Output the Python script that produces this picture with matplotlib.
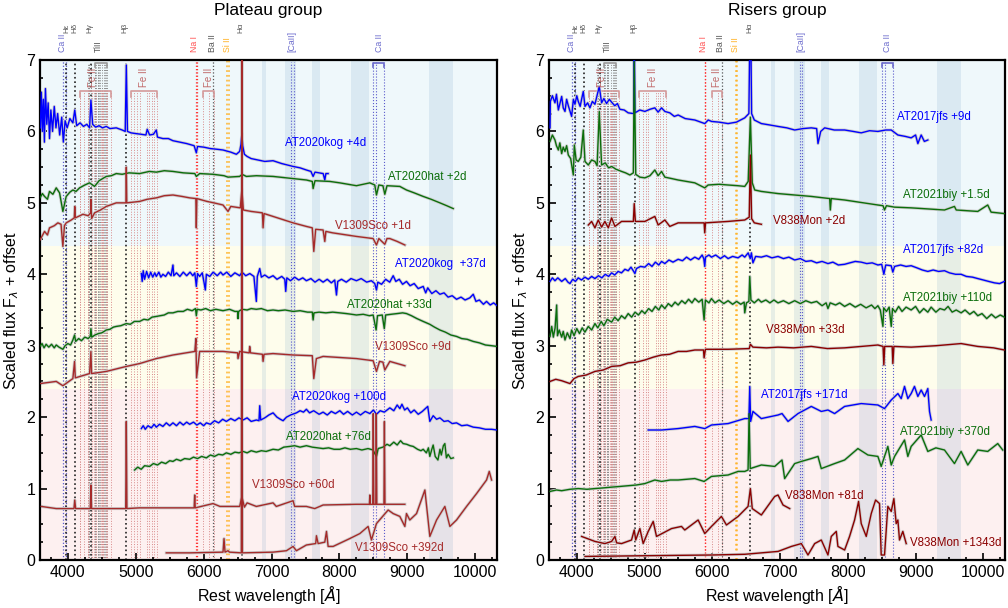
import matplotlib
matplotlib.use("Agg")
import matplotlib.pyplot as plt
import numpy as np
from matplotlib.ticker import MultipleLocator

plt.rcParams.update({
    "font.family": ["Liberation Sans", "DejaVu Sans"],
    "mathtext.fontset": "dejavusans",
    "axes.linewidth": 1.6,
})

BLUE = "#0000ff"
GREEN = "#0b6e0b"
BROWN = "#a52a2a"
DARKRED = "#8b0000"
SHADOW = "#cdcdcd"

# ---------------- line identifications (Angstrom) ----------------
CAII_HK = [3934, 3968]
BALMER = [3970, 4102, 4340, 4861, 6563]
TIII = [4300, 4308, 4314, 4338, 4395, 4400, 4418, 4444, 4450, 4464, 4468,
        4501, 4534, 4549, 4563, 4572]
FEII_A = [4173, 4178, 4233, 4297, 4303, 4352, 4385, 4416, 4489, 4508, 4515,
          4520, 4556, 4584, 4629]
FEII_B = [4924, 4973, 5018, 5057, 5169, 5198, 5235, 5276, 5317]
FEII_C = [5991, 6084, 6149]
NAI = [5890, 5896]
BAII = [6142]
SIII = [6347, 6371]
CAII_FORB = [7291, 7324]
CAII_IR = [8498, 8542, 8662]
TELLURIC = [(6865, 6925), (7205, 7365), (7600, 7720), (8165, 8435), (9315, 9665)]

# ---------------- Plateau group spectra: (wavelength, scaled flux + offset) ----------------
KOG_4D = np.array([
    (3595, 6.05), (3610, 6.55), (3625, 6.0), (3640, 6.45), (3655, 5.85), (3670, 6.6),
    (3690, 6.1), (3710, 6.4), (3730, 5.9), (3750, 6.3), (3775, 6.0), (3800, 6.35),
    (3825, 6.05), (3850, 6.25), (3880, 5.95), (3910, 6.2), (3934, 5.85), (3960, 6.15),
    (3990, 6.05), (4030, 6.18), (4074, 6.12), (4102, 6.3), (4130, 6.08), (4180, 6.12),
    (4230, 6.07), (4280, 6.1), (4320, 6.05), (4340, 6.44), (4365, 6.1), (4410, 6.06),
    (4460, 6.08), (4510, 6.05), (4566, 6.07), (4620, 6.04), (4713, 6.05), (4800, 6.02),
    (4845, 6.0), (4861, 6.93), (4878, 6.0), (4930, 5.98), (5000, 5.97), (5080, 5.96),
    (5150, 5.95), (5169, 6.03), (5204, 5.95), (5260, 5.96), (5303, 6.02), (5320, 5.92),
    (5400, 5.9), (5480, 5.9), (5548, 5.87), (5650, 5.85), (5750, 5.83), (5860, 5.8),
    (5892, 5.7), (5910, 5.79), (6000, 5.78), (6100, 5.76), (6200, 5.75), (6285, 5.74),
    (6400, 5.71), (6482, 5.68), (6530, 5.72), (6550, 5.82), (6563, 5.98), (6575, 5.8),
    (6600, 5.68), (6640, 5.65), (6700, 5.62), (6800, 5.6), (6900, 5.58), (7022, 5.59),
    (7150, 5.55), (7317, 5.51), (7420, 5.49), (7513, 5.46), (7580, 5.44), (7612, 5.37),
    (7640, 5.43), (7700, 5.42), (7760, 5.41), (7784, 5.32), (7800, 5.41), (7833, 5.41)])
HAT_2D = np.array([
    (3590, 5.07), (3625, 5.13), (3657, 5.09), (3700, 5.05), (3730, 5.16), (3780, 5.12),
    (3829, 5.21), (3878, 5.14), (3927, 4.88), (3976, 5.09), (4030, 5.15), (4074, 5.18),
    (4120, 5.16), (4173, 5.21), (4250, 5.25), (4320, 5.28), (4394, 5.23), (4460, 5.31),
    (4566, 5.37), (4640, 5.38), (4713, 5.41), (4800, 5.4), (4900, 5.42), (5057, 5.41),
    (5200, 5.44), (5303, 5.43), (5420, 5.45), (5548, 5.44), (5700, 5.42), (5870, 5.41),
    (5892, 5.37), (5941, 5.41), (6138, 5.4), (6300, 5.38), (6359, 5.36), (6531, 5.37),
    (6565, 5.4), (6629, 5.37), (6776, 5.38), (7022, 5.37), (7317, 5.34), (7513, 5.32),
    (7600, 5.3), (7612, 5.2), (7640, 5.31), (7858, 5.3), (8005, 5.28), (8250, 5.24),
    (8447, 5.28), (8520, 5.25), (8545, 5.11), (8580, 5.25), (8640, 5.24), (8668, 5.12),
    (8700, 5.24), (8889, 5.23), (8987, 5.18), (9100, 5.14), (9233, 5.09), (9350, 5.05),
    (9479, 5.0), (9580, 4.96), (9675, 4.92)])
SCO_1D = np.array([
    (3590, 4.48), (3657, 4.6), (3700, 4.55), (3730, 4.65), (3800, 4.68), (3853, 4.72),
    (3900, 4.7), (3927, 4.39), (3950, 4.68), (3976, 4.72), (4050, 4.76), (4095, 4.79),
    (4102, 4.95), (4110, 4.79), (4222, 4.84), (4300, 4.82), (4335, 4.86), (4340, 5.05),
    (4350, 4.78), (4394, 4.86), (4480, 4.9), (4566, 4.95), (4713, 5.0), (4855, 5.0),
    (4861, 5.5), (4868, 5.0), (5057, 5.02), (5169, 5.05), (5303, 5.07), (5420, 5.1),
    (5548, 5.11), (5680, 5.09), (5794, 5.07), (5885, 5.06), (5892, 4.65), (5900, 5.06),
    (6050, 5.02), (6150, 5.0), (6285, 4.97), (6359, 4.88), (6400, 4.95), (6540, 4.93),
    (6563, 5.2), (6585, 4.9), (6700, 4.88), (6865, 4.86), (6875, 4.65), (6890, 4.85),
    (7022, 4.81), (7317, 4.72), (7513, 4.67), (7600, 4.65), (7622, 4.32), (7650, 4.63),
    (7759, 4.62), (7784, 4.46), (7800, 4.6), (7900, 4.58), (8250, 4.53), (8496, 4.5),
    (8545, 4.41), (8580, 4.5), (8668, 4.42), (8700, 4.5), (8742, 4.5), (8850, 4.46),
    (8963, 4.41)])
KOG_37D = np.array([
    (5082, 4.01), (5095, 3.9), (5110, 4.05), (5130, 3.93), (5160, 4.04), (5190, 3.95),
    (5220, 4.03), (5250, 3.96), (5280, 4.02), (5303, 3.97), (5340, 4.03), (5370, 3.96),
    (5400, 4.0), (5440, 3.97), (5480, 4.03), (5520, 3.98), (5548, 4.13), (5560, 3.98),
    (5600, 4.02), (5650, 3.97), (5700, 4.03), (5750, 3.98), (5800, 4.03), (5840, 3.98),
    (5870, 4.02), (5892, 3.83), (5910, 4.01), (5941, 3.97), (5980, 4.02), (6025, 3.78),
    (6040, 4.0), (6090, 3.97), (6140, 4.03), (6200, 3.98), (6250, 4.03), (6285, 3.99),
    (6340, 4.03), (6400, 3.97), (6460, 4.02), (6531, 3.98), (6565, 4.03), (6620, 3.98),
    (6680, 4.01), (6740, 3.97), (6776, 3.62), (6790, 3.97), (6826, 4.08), (6850, 3.96),
    (6900, 3.99), (6960, 3.95), (7022, 3.98), (7080, 3.93), (7150, 3.97), (7195, 3.93),
    (7209, 3.76), (7225, 3.95), (7280, 3.91), (7340, 3.96), (7400, 3.92), (7460, 3.95),
    (7513, 3.91), (7580, 3.94), (7640, 3.89), (7700, 3.93), (7759, 3.89), (7820, 3.93),
    (7880, 3.88), (7930, 3.92), (7956, 3.71), (7975, 3.9), (8030, 3.93), (8100, 3.89),
    (8170, 3.94), (8250, 3.91), (8320, 3.94), (8400, 3.89), (8470, 3.91), (8520, 3.87),
    (8545, 3.78), (8565, 3.89), (8620, 3.86), (8680, 3.93), (8740, 3.89), (8791, 3.98),
    (8830, 3.9), (8880, 3.93), (8930, 3.86), (8987, 3.9), (9040, 3.84), (9100, 3.87),
    (9160, 3.8), (9233, 3.83), (9270, 3.74), (9300, 3.81), (9360, 3.73), (9420, 3.77),
    (9479, 3.72), (9540, 3.74), (9600, 3.68), (9660, 3.7), (9724, 3.65), (9790, 3.68),
    (9850, 3.64), (9920, 3.67), (9970, 3.72), (10010, 3.62), (10060, 3.64), (10120, 3.58),
    (10166, 3.62), (10220, 3.57), (10270, 3.6), (10320, 3.56)])
HAT_33D = np.array([
    (3590, 2.99), (3620, 3.03), (3650, 2.97), (3680, 3.02), (3720, 2.98), (3760, 3.02),
    (3800, 2.97), (3829, 3.01), (3870, 2.98), (3927, 2.95), (3960, 3.0), (4000, 3.03),
    (4040, 3.01), (4074, 3.08), (4099, 3.15), (4115, 3.06), (4160, 3.1), (4200, 3.07),
    (4250, 3.12), (4300, 3.1), (4330, 3.13), (4340, 3.24), (4352, 3.12), (4400, 3.15),
    (4450, 3.17), (4500, 3.18), (4566, 3.22), (4620, 3.23), (4670, 3.26), (4713, 3.27),
    (4780, 3.28), (4861, 3.31), (4920, 3.3), (4980, 3.34), (5057, 3.34), (5120, 3.37),
    (5180, 3.36), (5240, 3.4), (5303, 3.41), (5360, 3.42), (5420, 3.43), (5480, 3.46),
    (5548, 3.46), (5620, 3.48), (5700, 3.48), (5760, 3.51), (5830, 3.49), (5880, 3.52),
    (5892, 3.42), (5905, 3.51), (5960, 3.5), (6030, 3.52), (6100, 3.49), (6180, 3.51),
    (6285, 3.49), (6380, 3.51), (6460, 3.48), (6500, 3.48), (6506, 3.38), (6515, 3.48),
    (6565, 3.51), (6640, 3.5), (6700, 3.52), (6776, 3.51), (6850, 3.52), (6940, 3.49),
    (7022, 3.5), (7100, 3.49), (7200, 3.5), (7317, 3.48), (7420, 3.49), (7530, 3.47),
    (7600, 3.47), (7612, 3.36), (7625, 3.46), (7700, 3.47), (7800, 3.46), (7900, 3.47),
    (8005, 3.46), (8100, 3.45), (8180, 3.44), (8250, 3.43), (8350, 3.44), (8440, 3.42),
    (8496, 3.43), (8540, 3.22), (8560, 3.42), (8630, 3.43), (8660, 3.24), (8680, 3.43),
    (8760, 3.44), (8850, 3.45), (8930, 3.46), (8987, 3.45), (9060, 3.42), (9140, 3.38),
    (9233, 3.34), (9330, 3.3), (9400, 3.26), (9479, 3.22), (9560, 3.19), (9640, 3.15),
    (9724, 3.13), (9800, 3.1), (9880, 3.09), (9970, 3.06), (10060, 3.04), (10150, 3.01),
    (10240, 3.0), (10320, 2.99)])
SCO_9D = np.array([
    (3590, 2.47), (3829, 2.5), (3927, 2.44), (4074, 2.54), (4099, 2.78), (4110, 2.55),
    (4320, 2.61), (4340, 2.92), (4350, 2.61), (4566, 2.64), (4861, 2.71), (5057, 2.75),
    (5303, 2.82), (5548, 2.87), (5870, 2.92), (5886, 3.1), (5896, 2.55), (5941, 2.92),
    (6285, 2.92), (6500, 2.9), (6506, 2.82), (6531, 2.92), (6670, 2.9), (6678, 2.99),
    (6690, 2.9), (6865, 2.88), (6875, 2.78), (6890, 2.88), (7022, 2.89), (7317, 2.87),
    (7600, 2.86), (7622, 2.54), (7660, 2.82), (7759, 2.85), (8250, 2.82), (8496, 2.79),
    (8545, 2.64), (8590, 2.78), (8640, 2.77), (8668, 2.66), (8742, 2.78), (8963, 2.72)])
KOG_100D = np.array([
    (5082, 1.84), (5110, 1.88), (5140, 1.83), (5180, 1.88), (5230, 1.85), (5270, 1.9),
    (5303, 1.86), (5350, 1.9), (5400, 1.87), (5450, 1.92), (5500, 1.88), (5548, 1.92),
    (5600, 1.88), (5650, 1.93), (5700, 1.89), (5750, 1.93), (5794, 1.9), (5850, 1.93),
    (5900, 1.89), (5950, 1.92), (6000, 1.88), (6040, 1.92), (6100, 1.9), (6160, 1.95),
    (6220, 1.92), (6280, 1.97), (6334, 1.94), (6400, 1.98), (6460, 1.95), (6520, 1.99),
    (6580, 1.96), (6640, 1.99), (6700, 1.94), (6776, 1.96), (6815, 1.95), (6826, 2.16),
    (6840, 1.96), (6900, 1.99), (6960, 2.03), (7022, 2.06), (7080, 2.0), (7130, 1.97),
    (7170, 1.95), (7220, 2.0), (7280, 2.03), (7366, 2.06), (7420, 2.09), (7470, 2.07),
    (7513, 2.11), (7560, 2.06), (7620, 2.09), (7700, 2.04), (7759, 2.07), (7820, 2.03),
    (7880, 2.08), (7940, 2.05), (8005, 2.09), (8060, 2.04), (8120, 2.08), (8190, 2.03),
    (8250, 2.07), (8310, 2.03), (8380, 2.08), (8447, 2.05), (8500, 2.1), (8545, 2.04),
    (8600, 2.09), (8660, 2.07), (8742, 2.13), (8800, 2.09), (8850, 2.17), (8889, 2.12),
    (8920, 2.18), (8960, 2.1), (9000, 2.13), (9050, 2.06), (9100, 2.1), (9160, 2.04),
    (9220, 2.08), (9300, 2.15), (9331, 1.94), (9380, 2.02), (9430, 1.97), (9479, 1.99),
    (9540, 1.94), (9600, 1.95), (9660, 1.91), (9724, 1.92), (9800, 1.88), (9880, 1.89),
    (9970, 1.86), (10060, 1.85), (10150, 1.83), (10240, 1.83), (10320, 1.82)])
HAT_76D = np.array([
    (4983, 1.26), (5030, 1.3), (5080, 1.27), (5130, 1.32), (5204, 1.31), (5260, 1.35),
    (5320, 1.33), (5380, 1.37), (5440, 1.35), (5500, 1.39), (5548, 1.38), (5600, 1.41),
    (5660, 1.39), (5720, 1.42), (5794, 1.41), (5850, 1.44), (5910, 1.42), (5970, 1.45),
    (6040, 1.43), (6100, 1.47), (6160, 1.45), (6220, 1.48), (6280, 1.47), (6334, 1.5),
    (6400, 1.48), (6460, 1.51), (6520, 1.5), (6580, 1.52), (6640, 1.5), (6700, 1.53),
    (6776, 1.51), (6850, 1.53), (6920, 1.52), (7022, 1.55), (7100, 1.54), (7180, 1.58),
    (7268, 1.59), (7340, 1.6), (7420, 1.58), (7513, 1.6), (7600, 1.58), (7680, 1.57),
    (7759, 1.56), (7840, 1.57), (7920, 1.55), (8005, 1.55), (8080, 1.57), (8160, 1.55),
    (8250, 1.56), (8330, 1.54), (8420, 1.56), (8496, 1.54), (8520, 1.49), (8545, 1.45),
    (8570, 1.56), (8640, 1.58), (8700, 1.62), (8742, 1.6), (8800, 1.65), (8850, 1.61),
    (8900, 1.67), (8938, 1.63), (8990, 1.62), (9040, 1.6), (9086, 1.59), (9150, 1.55),
    (9200, 1.53), (9233, 1.55), (9280, 1.5), (9310, 1.57), (9331, 1.45), (9360, 1.55),
    (9380, 1.61), (9410, 1.45), (9450, 1.4), (9480, 1.55), (9500, 1.47), (9530, 1.6),
    (9552, 1.63), (9575, 1.43), (9600, 1.48), (9640, 1.42), (9675, 1.43)])
SCO_60D = np.array([
    (3608, 0.75), (3829, 0.72), (4090, 0.72), (4102, 0.84), (4115, 0.72), (4330, 0.72),
    (4340, 1.05), (4350, 0.72), (4566, 0.72), (4852, 0.72), (4861, 1.94), (4870, 0.72),
    (5057, 0.73), (5548, 0.73), (5860, 0.73), (5868, 0.91), (5876, 0.73), (6138, 0.79),
    (6240, 0.75), (6531, 0.75), (6563, 0.89), (6600, 0.74), (6640, 0.8), (6776, 0.75),
    (7022, 0.8), (7070, 0.75), (7317, 0.83), (7340, 0.75), (7513, 0.75), (7636, 0.72),
    (7759, 0.77), (8250, 0.78), (8440, 0.78), (8447, 0.91), (8454, 0.78), (8490, 0.78),
    (8498, 2.05), (8506, 0.78), (8535, 0.78), (8542, 2.05), (8550, 0.78), (8655, 0.78),
    (8662, 1.94), (8670, 0.78), (8742, 0.78), (8963, 0.78)])
SCO_392D = np.array([
    (5450, 0.1), (5794, 0.1), (6285, 0.11), (6300, 0.3), (6315, 0.11), (6359, 0.13),
    (6380, 0.11), (6555, 0.1), (6563, 8.0), (6571, 0.1), (7022, 0.11), (7219, 0.13),
    (7317, 0.19), (7366, 0.13), (7513, 0.21), (7650, 0.23), (7661, 0.34), (7686, 0.23),
    (7784, 0.25), (7809, 0.4), (7833, 0.19), (7907, 0.19), (8152, 0.3), (8300, 0.37),
    (8422, 0.47), (8471, 0.28), (8545, 0.51), (8717, 0.7), (8791, 0.65), (8889, 0.61),
    (8963, 0.47), (8987, 0.65), (9036, 0.56), (9135, 0.65), (9258, 0.98), (9331, 0.33),
    (9430, 0.56), (9552, 0.75), (9626, 0.47), (9724, 0.56), (9872, 0.75), (10019, 0.93),
    (10166, 1.12), (10206, 1.24), (10240, 1.12)])

# ---------------- Risers group spectra ----------------
JFS_9D = np.array([
    (3605, 6.05), (3610, 6.42), (3640, 6.5), (3678, 6.4), (3700, 6.52), (3728, 6.3),
    (3777, 6.49), (3800, 6.33), (3826, 6.28), (3850, 6.45), (3875, 6.36), (3924, 6.21),
    (3950, 6.45), (3973, 6.38), (4000, 6.5), (4022, 6.42), (4050, 6.35), (4071, 6.45),
    (4096, 6.56), (4121, 6.35), (4160, 6.4), (4194, 6.33), (4230, 6.42), (4268, 6.38),
    (4332, 6.63), (4366, 6.4), (4400, 6.46), (4440, 6.39), (4480, 6.45), (4514, 6.41),
    (4560, 6.36), (4600, 6.39), (4636, 6.31), (4700, 6.3), (4759, 6.26), (4840, 6.25),
    (4848, 7.6), (4858, 6.26), (4930, 6.3), (5005, 6.28), (5080, 6.31), (5152, 6.33),
    (5200, 6.27), (5251, 6.33), (5300, 6.28), (5373, 6.26), (5440, 6.21), (5496, 6.23),
    (5600, 6.18), (5742, 6.16), (5830, 6.13), (5889, 6.11), (5940, 6.16), (5988, 6.14),
    (6100, 6.13), (6233, 6.11), (6356, 6.13), (6479, 6.19), (6540, 6.25), (6562, 8.0),
    (6580, 6.25), (6620, 6.16), (6724, 6.11), (6850, 6.09), (6970, 6.07), (7100, 6.05),
    (7216, 6.02), (7340, 6.04), (7461, 6.05), (7540, 6.04), (7560, 5.83), (7600, 6.0),
    (7658, 6.05), (7800, 6.02), (7953, 6.02), (8080, 6.0), (8198, 5.98), (8320, 6.01),
    (8444, 6.0), (8560, 6.02), (8641, 6.02), (8739, 5.95), (8850, 5.93), (8935, 5.91),
    (9000, 5.95), (9034, 5.83), (9083, 5.95), (9130, 5.86), (9181, 5.88)])
BIY_1D = np.array([
    (3605, 5.86), (3640, 5.95), (3678, 5.88), (3700, 5.8), (3728, 5.74), (3750, 5.84),
    (3777, 5.69), (3800, 5.78), (3826, 5.72), (3850, 5.8), (3875, 5.67), (3910, 5.62),
    (3949, 5.39), (3964, 5.81), (3990, 5.6), (4022, 5.58), (4060, 5.64), (4096, 6.02),
    (4121, 5.58), (4170, 5.53), (4220, 5.6), (4268, 5.58), (4300, 5.52), (4332, 6.28),
    (4366, 5.53), (4420, 5.56), (4470, 5.49), (4514, 5.51), (4580, 5.47), (4661, 5.44),
    (4720, 5.42), (4784, 5.39), (4835, 5.42), (4848, 6.98), (4870, 5.4), (4930, 5.36),
    (5005, 5.35), (5080, 5.38), (5152, 5.46), (5200, 5.38), (5251, 5.44), (5300, 5.36),
    (5400, 5.34), (5496, 5.32), (5620, 5.3), (5742, 5.28), (5889, 5.21), (5938, 5.25),
    (6100, 5.26), (6233, 5.25), (6380, 5.24), (6479, 5.23), (6530, 5.3), (6562, 6.2),
    (6590, 5.28), (6626, 5.18), (6724, 5.16), (6970, 5.13), (7461, 5.09), (7732, 5.06),
    (7742, 4.9), (7756, 5.06), (7953, 5.04), (8444, 4.97), (8520, 4.96), (8542, 4.9),
    (8570, 4.96), (8690, 4.94), (8935, 4.93), (9427, 4.9), (9574, 4.95), (9600, 4.9),
    (9918, 4.88), (10065, 4.97), (10115, 4.87), (10311, 4.85)])
MON_2D = np.array([
    (4170, 4.69), (4219, 4.74), (4268, 4.65), (4317, 4.76), (4366, 4.66), (4415, 4.74),
    (4465, 4.65), (4514, 4.79), (4563, 4.67), (4661, 4.74), (4835, 4.74), (4848, 4.99),
    (4865, 4.74), (5005, 4.74), (5152, 4.81), (5201, 4.69), (5300, 4.76), (5373, 4.67),
    (5496, 4.72), (5742, 4.72), (5879, 4.72), (5889, 4.58), (5900, 4.72), (6233, 4.74),
    (6479, 4.76), (6545, 4.8), (6562, 5.67), (6580, 4.78), (6620, 4.72), (6724, 4.7)])
JFS_82D = np.array([
    (3605, 3.9), (3640, 3.95), (3678, 3.91), (3720, 3.95), (3777, 3.9), (3830, 3.94),
    (3870, 3.89), (3899, 3.87), (3940, 3.93), (3980, 3.9), (4022, 3.95), (4070, 3.92),
    (4120, 3.96), (4170, 3.93), (4220, 3.97), (4268, 3.94), (4320, 3.98), (4370, 3.95),
    (4420, 4.0), (4470, 3.97), (4514, 4.02), (4560, 3.99), (4610, 4.04), (4660, 4.02),
    (4710, 4.07), (4759, 4.05), (4800, 4.1), (4840, 4.04), (4858, 4.01), (4880, 4.08),
    (4940, 4.11), (5005, 4.1), (5060, 4.15), (5110, 4.11), (5160, 4.17), (5210, 4.13),
    (5251, 4.18), (5300, 4.15), (5360, 4.2), (5420, 4.17), (5496, 4.21), (5560, 4.19),
    (5620, 4.24), (5680, 4.2), (5742, 4.24), (5800, 4.21), (5850, 4.27), (5874, 4.22),
    (5889, 4.11), (5900, 4.24), (5950, 4.27), (5988, 4.24), (6050, 4.27), (6120, 4.22),
    (6180, 4.26), (6233, 4.22), (6300, 4.25), (6380, 4.23), (6440, 4.27), (6479, 4.24),
    (6530, 4.3), (6560, 4.22), (6577, 4.3), (6600, 4.16), (6640, 4.25), (6724, 4.24),
    (6800, 4.26), (6880, 4.23), (6970, 4.25), (7050, 4.22), (7130, 4.24), (7216, 4.2),
    (7300, 4.22), (7380, 4.18), (7461, 4.19), (7540, 4.16), (7620, 4.18), (7707, 4.15),
    (7780, 4.17), (7860, 4.13), (7953, 4.14), (8030, 4.16), (8110, 4.18), (8198, 4.17),
    (8280, 4.15), (8360, 4.16), (8444, 4.13), (8500, 4.14), (8532, 4.0), (8560, 4.13),
    (8640, 4.12), (8665, 4.03), (8690, 4.11), (8780, 4.13), (8860, 4.11), (8935, 4.12),
    (9020, 4.09), (9100, 4.06), (9181, 4.04), (9260, 4.06), (9340, 4.04), (9427, 4.05),
    (9500, 4.02), (9590, 4.0), (9672, 4.0), (9750, 3.97), (9840, 3.96), (9918, 3.94),
    (10000, 3.92), (10080, 3.9), (10164, 3.88), (10240, 3.87), (10311, 3.9)])
BIY_110D = np.array([
    (3605, 3.13), (3630, 3.27), (3654, 3.12), (3680, 3.25), (3703, 3.57), (3715, 3.14),
    (3740, 3.22), (3777, 3.12), (3800, 3.2), (3826, 3.08), (3860, 3.18), (3900, 3.1),
    (3924, 3.22), (3960, 3.14), (4000, 3.24), (4040, 3.17), (4080, 3.25), (4120, 3.19),
    (4170, 3.27), (4220, 3.22), (4268, 3.31), (4310, 3.25), (4360, 3.34), (4400, 3.28),
    (4450, 3.37), (4514, 3.33), (4560, 3.4), (4610, 3.35), (4660, 3.42), (4710, 3.38),
    (4759, 3.45), (4810, 3.4), (4860, 3.47), (4910, 3.43), (4960, 3.49), (5005, 3.45),
    (5060, 3.52), (5110, 3.48), (5160, 3.55), (5210, 3.5), (5251, 3.57), (5300, 3.52),
    (5350, 3.59), (5400, 3.55), (5450, 3.61), (5496, 3.57), (5550, 3.63), (5600, 3.59),
    (5650, 3.65), (5700, 3.6), (5742, 3.66), (5800, 3.61), (5850, 3.65), (5879, 3.36),
    (5899, 3.64), (5950, 3.6), (5988, 3.66), (6040, 3.6), (6100, 3.64), (6170, 3.59),
    (6233, 3.63), (6300, 3.58), (6360, 3.62), (6420, 3.58), (6470, 3.61), (6479, 3.46),
    (6504, 3.6), (6540, 3.62), (6553, 3.97), (6570, 3.64), (6620, 3.6), (6680, 3.65),
    (6724, 3.61), (6790, 3.64), (6850, 3.6), (6910, 3.64), (6970, 3.6), (7050, 3.63),
    (7130, 3.59), (7216, 3.63), (7300, 3.59), (7380, 3.63), (7461, 3.6), (7540, 3.62),
    (7620, 3.56), (7680, 3.6), (7707, 3.52), (7740, 3.6), (7820, 3.57), (7880, 3.6),
    (7953, 3.55), (8030, 3.59), (8110, 3.54), (8190, 3.58), (8270, 3.53), (8350, 3.57),
    (8400, 3.52), (8444, 3.56), (8480, 3.5), (8518, 3.27), (8530, 3.53), (8570, 3.48),
    (8610, 3.54), (8641, 3.27), (8660, 3.52), (8700, 3.47), (8750, 3.55), (8800, 3.48),
    (8860, 3.54), (8935, 3.5), (9000, 3.55), (9060, 3.46), (9120, 3.52), (9181, 3.47),
    (9230, 3.54), (9300, 3.47), (9360, 3.52), (9427, 3.5), (9480, 3.55), (9540, 3.47),
    (9600, 3.5), (9672, 3.46), (9730, 3.5), (9800, 3.44), (9860, 3.48), (9918, 3.42),
    (9980, 3.45), (10050, 3.38), (10120, 3.44), (10180, 3.39), (10250, 3.43), (10311, 3.4)])
MON_33D = np.array([
    (3605, 2.5), (3690, 2.53), (3777, 2.51), (3899, 2.47), (3960, 2.54), (4022, 2.57),
    (4140, 2.59), (4268, 2.64), (4390, 2.66), (4514, 2.71), (4640, 2.72), (4759, 2.76),
    (4880, 2.77), (5005, 2.8), (5130, 2.84), (5251, 2.87), (5370, 2.88), (5496, 2.92),
    (5620, 2.92), (5742, 2.94), (5870, 2.94), (5879, 2.83), (5899, 2.95), (5988, 2.95),
    (6233, 2.95), (6545, 2.96), (6562, 3.02), (6600, 2.98), (6800, 2.97), (6970, 2.98),
    (7200, 2.97), (7461, 2.99), (7700, 2.96), (7953, 2.97), (8200, 2.99), (8444, 3.01),
    (8520, 2.99), (8532, 2.73), (8545, 2.99), (8655, 2.99), (8665, 2.75), (8680, 2.99),
    (8935, 2.98), (9300, 3.0), (9672, 3.03), (9918, 2.99), (10150, 2.97), (10311, 2.94)])
JFS_171D = np.array([
    (5054, 1.82), (5251, 1.82), (5496, 1.84), (5742, 1.87), (5889, 1.84), (5988, 1.89),
    (6233, 1.91), (6479, 1.98), (6540, 1.98), (6553, 2.43), (6566, 1.94), (6600, 2.08),
    (6724, 1.98), (6970, 2.03), (7029, 2.05), (7118, 1.94), (7265, 2.05), (7461, 2.15),
    (7609, 2.08), (7707, 2.1), (7805, 2.05), (7953, 2.15), (8198, 2.19), (8444, 2.17),
    (8542, 2.12), (8641, 2.24), (8739, 2.33), (8788, 2.26), (8837, 2.43), (8886, 2.26),
    (8935, 2.33), (8984, 2.43), (9034, 2.29), (9083, 2.38), (9132, 2.29), (9181, 2.4),
    (9206, 2.08), (9230, 1.96)])
BIY_370D = np.array([
    (3605, 0.96), (3700, 0.98), (3777, 0.97), (3900, 0.99), (4022, 1.0), (4150, 0.99),
    (4268, 1.0), (4400, 1.01), (4514, 1.02), (4640, 1.03), (4759, 1.04), (4880, 1.05),
    (5005, 1.07), (5152, 1.12), (5251, 1.1), (5380, 1.12), (5496, 1.12), (5620, 1.13),
    (5742, 1.14), (5879, 1.1), (5988, 1.17), (6233, 1.19), (6381, 1.24), (6479, 1.24),
    (6528, 1.26), (6543, 2.05), (6560, 1.28), (6724, 1.33), (6921, 1.31), (7029, 1.4),
    (7068, 1.14), (7216, 1.35), (7314, 1.38), (7461, 1.42), (7560, 1.45), (7609, 1.28),
    (7805, 1.35), (7953, 1.4), (8149, 1.56), (8297, 1.47), (8444, 1.45), (8493, 1.31),
    (8591, 1.59), (8641, 1.33), (8690, 1.45), (8837, 1.68), (8886, 1.45), (8935, 1.59),
    (9083, 1.75), (9181, 1.52), (9300, 1.57), (9427, 1.54), (9574, 1.35), (9672, 1.52),
    (9771, 1.33), (9918, 1.54), (10065, 1.52), (10213, 1.63), (10286, 1.54)])
MON_81D = np.array([
    (4071, 0.33), (4268, 0.26), (4415, 0.23), (4514, 0.26), (4563, 0.33), (4588, 0.24),
    (4661, 0.23), (4808, 0.28), (4848, 0.42), (4870, 0.28), (4931, 0.44), (4980, 0.23),
    (5054, 0.4), (5128, 0.54), (5177, 0.33), (5398, 0.44), (5545, 0.47), (5594, 0.42),
    (5791, 0.56), (5889, 0.37), (5988, 0.47), (6135, 0.61), (6209, 0.49), (6381, 0.61),
    (6528, 0.75), (6562, 1.0), (6590, 0.72), (6724, 0.63), (6921, 0.89), (6970, 0.91),
    (7044, 0.77), (7142, 0.72)])
MON_1343D = np.array([
    (4121, 0.05), (5005, 0.06), (5988, 0.07), (6479, 0.08), (6970, 0.12), (7167, 0.19),
    (7314, 0.23), (7412, 0.07), (7511, 0.23), (7609, 0.28), (7707, 0.07), (7756, 0.33),
    (7830, 0.4), (7854, 0.19), (7953, 0.14), (8026, 0.33), (8100, 0.56), (8159, 0.82),
    (8198, 0.51), (8272, 0.33), (8346, 0.65), (8410, 0.84), (8468, 0.79), (8493, 0.07),
    (8542, 0.07), (8591, 0.75), (8641, 0.68), (8680, 0.86), (8714, 0.51), (8739, 0.56),
    (8763, 0.28), (8812, 0.4), (8862, 0.23)])

PLATEAU = [
    (KOG_4D, BLUE, "AT2020kog +4d", 7194, 5.84),
    (HAT_2D, GREEN, "AT2020hat +2d", 8712, 5.36),
    (SCO_1D, BROWN, "V1309Sco +1d", 7930, 4.68),
    (KOG_37D, BLUE, "AT2020kog  +37d", 8815, 4.15),
    (HAT_33D, GREEN, "AT2020hat +33d", 8107, 3.57),
    (SCO_9D, BROWN, "V1309Sco +9d", 8520, 2.98),
    (KOG_100D, BLUE, "AT2020kog +100d", 7297, 2.28),
    (HAT_76D, GREEN, "AT2020hat +76d", 7208, 1.72),
    (SCO_60D, BROWN, "V1309Sco +60d", 6707, 1.05),
    (SCO_392D, BROWN, "V1309Sco +392d", 8226, 0.17),
]
RISERS = [
    (JFS_9D, BLUE, "AT2017jfs +9d", 8719, 6.2),
    (BIY_1D, GREEN, "AT2021biy +1.5d", 8808, 5.11),
    (MON_2D, DARKRED, "V838Mon +2d", 6892, 4.75),
    (JFS_82D, BLUE, "AT2017jfs +82d", 8808, 4.34),
    (BIY_110D, GREEN, "AT2021biy +110d", 8808, 3.67),
    (MON_33D, DARKRED, "V838Mon +33d", 6788, 3.22),
    (JFS_171D, BLUE, "AT2017jfs +171d", 6714, 2.31),
    (BIY_370D, GREEN, "AT2021biy +370d", 8764, 1.79),
    (MON_81D, DARKRED, "V838Mon +81d", 7069, 0.9),
    (MON_1343D, DARKRED, "V838Mon +1343d", 8911, 0.24),
]

XLIM = (3590, 10320)


def draw_lines(ax):
    ax.axhspan(4.4, 7.0, color="#eff8fb", zorder=0, lw=0)
    ax.axhspan(2.4, 4.4, color="#fefdec", zorder=0, lw=0)
    ax.axhspan(0.0, 2.4, color="#fdf0f0", zorder=0, lw=0)
    for lo, hi in TELLURIC:
        ax.axvspan(lo, hi, color="#4682b4", alpha=0.12, lw=0, zorder=0.5)

    kw = dict(linestyles="dotted", zorder=1)
    ax.vlines(TIII, 0, 6.95, colors="#8a8a8a", lw=0.7, **kw)
    ax.vlines(FEII_A + FEII_B, 0, 6.55, colors="#d88a8a", lw=0.7, **kw)
    ax.vlines(FEII_C, 0, 6.55, colors="#d88a8a", lw=0.7, **kw)
    ax.vlines(CAII_HK, 0, 7, colors="#5a5acc", lw=0.9, **kw)
    ax.vlines(BALMER, 0, 7, colors="#222222", lw=1.2, **kw)
    ax.vlines(NAI, 0, 7, colors="#ff3030", lw=0.9, **kw)
    ax.vlines(BAII, 0, 7, colors="#555555", lw=0.9, **kw)
    ax.vlines(SIII, 0, 7, colors="#ffb020", lw=1.3, alpha=0.8, **kw)
    ax.vlines(CAII_FORB, 0, 6.97, colors="#5a5acc", lw=0.8, **kw)
    ax.vlines(CAII_IR, 0, 6.97, colors="#5a5acc", lw=0.8, **kw)

    # brackets
    for lo, hi, xt in [(4173, 4629, 4365), (4924, 5317, 5120), (5991, 6149, 6075)]:
        ax.plot([lo, lo, hi, hi], [6.48, 6.56, 6.56, 6.48], color="#d49a9a", lw=1.2, zorder=1.5)
        ax.text(xt, 6.62, "Fe II", rotation=90, ha="center", va="bottom",
                fontsize=7, color="#c06868", zorder=4)
    ax.plot([4395, 4395, 4572, 4572], [6.9, 6.96, 6.96, 6.9], color="#999999", lw=1.2, zorder=1.5)
    ax.plot([8498, 8498, 8662, 8662], [6.9, 6.96, 6.96, 6.9], color="#6a6acc", lw=1.2, zorder=1.5)

    # identifications above the panel
    top_low = [(3926, "Ca II", "#6a6acc"), (4452, "TiII", "#555555"),
               (5868, "Na I", "#ff5050"), (6128, "Ba II", "#555555"),
               (6344, "Si II", "#ffb020"), (7301, "[CaII]", "#6a6acc"),
               (8584, "Ca II", "#6a6acc")]
    for x, s, c in top_low:
        ax.text(x, 7.11, s, rotation=90, ha="center", va="bottom", fontsize=6.3, color=c)
    top_high = [(3990, "H\u03b5"), (4100, "H\u03b4"), (4330, "H\u03b3"),
                (4836, "H\u03b2"), (6555, "H\u03b1")]
    for x, s in top_high:
        ax.text(x, 7.38, s, rotation=90, ha="center", va="bottom", fontsize=5.8, color="#555555")


def draw_panel(ax, spectra, title):
    draw_lines(ax)
    for arr, color, label, lx, ly in spectra:
        ax.plot(arr[:, 0], arr[:, 1], color=SHADOW, lw=2.2, zorder=2, solid_joinstyle="round")
        ax.plot(arr[:, 0], arr[:, 1], color=color, lw=1.0, zorder=3)
        ax.text(lx, ly, label, color=color, fontsize=8.3, ha="left", va="center", zorder=5)

    ax.set_xlim(*XLIM)
    ax.set_ylim(0, 7)
    ax.xaxis.set_major_locator(MultipleLocator(1000))
    ax.xaxis.set_minor_locator(MultipleLocator(250))
    ax.yaxis.set_major_locator(MultipleLocator(1))
    ax.yaxis.set_minor_locator(MultipleLocator(0.25))
    ax.tick_params(which="both", direction="in", labelsize=11.5, width=1.2)
    ax.tick_params(which="major", length=5)
    ax.tick_params(which="minor", length=2.5)
    ax.set_xlabel(r"Rest wavelength [$\AA$]", fontsize=11.5, labelpad=2)
    ax.set_ylabel(r"Scaled flux F$_\lambda$ + offset", fontsize=11.5, labelpad=4)
    ax.text(0.5, 1.1, title, transform=ax.transAxes, ha="center", va="center", fontsize=12.5)


fig = plt.figure(figsize=(10.08, 6.08), dpi=100)
ax1 = fig.add_axes([40 / 1008, 48 / 608, 457 / 1008, 500 / 608])
ax2 = fig.add_axes([549 / 1008, 48 / 608, 456 / 1008, 500 / 608])
draw_panel(ax1, PLATEAU, "Plateau group")
draw_panel(ax2, RISERS, "Risers group")

fig.savefig("out.png", dpi=100, facecolor="white")
